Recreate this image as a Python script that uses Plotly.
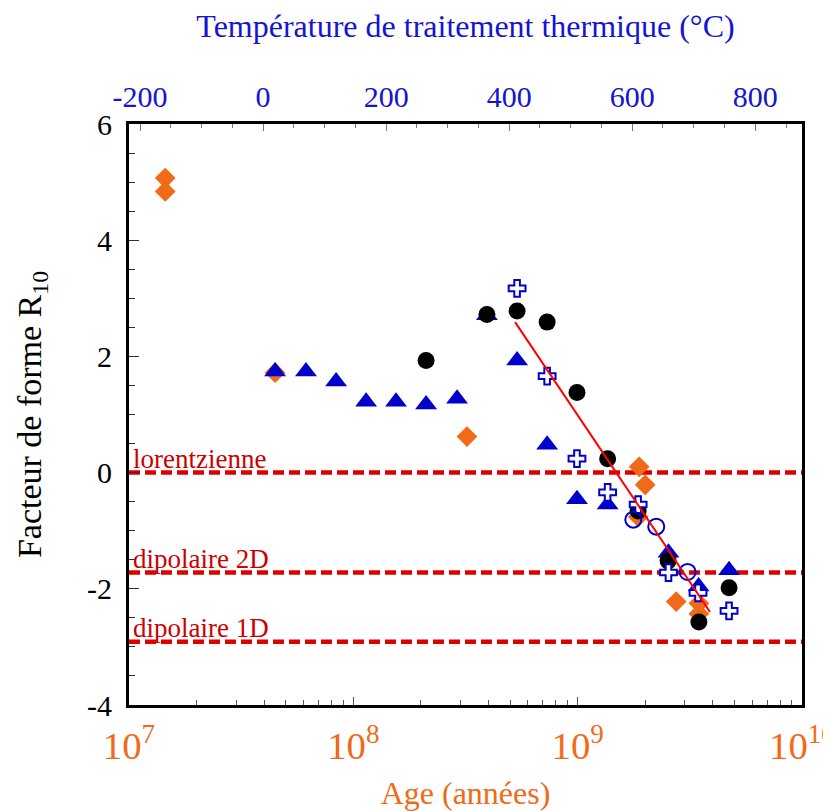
import plotly.graph_objects as go

# ---------------- data ----------------
diamond_age = [1.45e7, 1.45e7, 4.48e7, 3.21e8, 1.88e9, 2.00e9, 1.86e9, 2.75e9, 3.47e9, 3.47e9]
diamond_r10 = [5.07, 4.84, 1.72, 0.62, 0.10, -0.21, -0.76, -2.22, -2.25, -2.43]

triangle_age = [4.48e7, 6.15e7, 8.38e7, 1.14e8, 1.55e8, 2.11e8, 2.90e8, 3.94e8,
                5.37e8, 7.31e8, 9.93e8, 1.36e9, 2.54e9, 3.46e9, 4.73e9]
triangle_r10 = [1.74, 1.74, 1.57, 1.22, 1.22, 1.17, 1.27, 2.71,
                1.93, 0.48, -0.46, -0.55, -1.38, -1.96, -1.68]

circle_age = [2.11e8, 3.94e8, 5.37e8, 7.31e8, 9.93e8, 1.36e9, 1.86e9, 2.53e9, 3.47e9, 4.73e9]
circle_r10 = [1.93, 2.72, 2.78, 2.59, 1.38, 0.24, -0.66, -1.52, -2.57, -1.98]

cross_age = [5.37e8, 7.31e8, 9.93e8, 1.36e9, 1.86e9, 2.54e9, 3.44e9, 4.73e9]
cross_r10 = [3.17, 1.66, 0.24, -0.34, -0.55, -1.72, -2.07, -2.38]

opencircle_age = [1.77e9, 2.24e9, 3.09e9]
opencircle_r10 = [-0.81, -0.93, -1.71]

fit_age = [5.26e8, 3.89e9]
fit_r10 = [2.59, -2.40]

ref_names = ["lorentzienne", "dipolaire 2D", "dipolaire 1D"]
ref_r10 = [0.0, -1.72, -2.91]
age_span = [1e7, 1e10]

temp_ticks = [-200, 0, 200, 400, 600, 800]
temp_labels = ["-200", "0", "200", "400", "600", "800"]
r10_ticks = [-4, -2, 0, 2, 4, 6]
r10_labels = ["-4", "-2", "0", "2", "4", "6"]
age_range_log = [7, 10]
temp_range = [-218, 876]
r10_range = [-4, 6]

# ---------------- styles ----------------
FONT = "Liberation Serif"
ORANGE = "#F06A18"
BLUE = "#0000CC"
RED = "#DD0000"
TXT_BLUE = "#1414D2"

fig = go.Figure()

# reference dashed lines
for name, yv in zip(ref_names, ref_r10):
    fig.add_trace(go.Scatter(x=age_span, y=[yv, yv], mode="lines",
                             line=dict(color=RED, width=4.5, dash="11px,5px"),
                             name=name, hoverinfo="name"))
    fig.add_annotation(x=0.003, xref="x domain", y=yv, yref="y", text=name,
                       showarrow=False, xanchor="left", yanchor="bottom", yshift=-3,
                       font=dict(family=FONT, size=27, color="#CC0000"))

fig.add_trace(go.Scatter(x=diamond_age, y=diamond_r10, mode="markers",
                         marker=dict(symbol="diamond", size=16, color=ORANGE,
                                     line=dict(width=0)), name="diamond"))
fig.add_trace(go.Scatter(x=triangle_age, y=triangle_r10, mode="markers",
                         marker=dict(symbol="triangle-up", size=19, color=BLUE,
                                     line=dict(width=0)), name="triangle"))
fig.add_trace(go.Scatter(x=circle_age, y=circle_r10, mode="markers",
                         marker=dict(symbol="circle", size=17, color="black",
                                     line=dict(width=0)), name="circle"))
fig.add_trace(go.Scatter(x=cross_age, y=cross_r10, mode="markers",
                         marker=dict(symbol="cross", size=14, color="white",
                                     line=dict(width=2, color=BLUE)), name="cross"))
fig.add_trace(go.Scatter(x=opencircle_age, y=opencircle_r10, mode="markers",
                         marker=dict(symbol="circle-open", size=16, color=BLUE,
                                     line=dict(width=2, color=BLUE)), name="open circle"))
fig.add_trace(go.Scatter(x=fit_age, y=fit_r10, mode="lines",
                         line=dict(color="#FF0000", width=2), name="fit"))

# invisible trace to anchor the top axis
fig.add_trace(go.Scatter(x=temp_ticks, y=[None] * len(temp_ticks), xaxis="x2",
                         mode="markers", marker=dict(opacity=0), showlegend=False,
                         hoverinfo="skip"))

# the page body adds an 8px offset, so the figure is sized to fill the rest of the window
fig.update_layout(
    width=823, height=803,
    margin=dict(l=121, r=29, t=116, b=106, autoexpand=False),
    paper_bgcolor="white", plot_bgcolor="white",
    showlegend=False,
    font=dict(family=FONT, size=30, color="black"),
    xaxis=dict(
        type="log", range=age_range_log, dtick=1, exponentformat="power",
        automargin=False, ticklabeloverflow="allow",
        showgrid=False, zeroline=False,
        showline=True, linecolor="black", linewidth=3, mirror=True,
        ticks="inside", ticklen=8, tickcolor="#555555", tickwidth=1,
        minor=dict(ticks="inside", ticklen=5, tickcolor="#555555", dtick="D1"),
        tickfont=dict(family=FONT, size=31, color=ORANGE),
        ticklabelstandoff=6,
        title=dict(text="Age (années)", font=dict(family=FONT, size=32, color=ORANGE),
                   standoff=17),
    ),
    xaxis2=dict(
        overlaying="x", side="top", range=temp_range,
        tickvals=temp_ticks, ticktext=temp_labels,
        automargin=False, ticklabeloverflow="allow",
        showgrid=False, zeroline=False, showline=False,
        ticks="inside", ticklen=7, tickcolor="#777777", tickwidth=1,
        minor=dict(ticks="inside", ticklen=4, tickcolor="#777777", dtick=50, tick0=0),
        tickfont=dict(family=FONT, size=30, color=TXT_BLUE),
        ticklabelstandoff=10,
        title=dict(text="Température de traitement thermique (°C)",
                   font=dict(family=FONT, size=32, color=TXT_BLUE), standoff=40),
    ),
    yaxis=dict(
        range=r10_range, tickvals=r10_ticks, ticktext=r10_labels,
        automargin=False,
        showgrid=False, zeroline=False,
        showline=True, linecolor="black", linewidth=3, mirror=True,
        ticks="inside", ticklen=10, tickcolor="#333333", tickwidth=1,
        minor=dict(ticks="inside", ticklen=6, tickcolor="#333333", dtick=0.5, tick0=0),
        tickfont=dict(family=FONT, size=30, color="black"),
        ticklabelstandoff=8,
        title=dict(text="Facteur de forme R<sub>10</sub>",
                   font=dict(family=FONT, size=34, color="black"), standoff=36),
    ),
)

fig.write_html("out.html")
